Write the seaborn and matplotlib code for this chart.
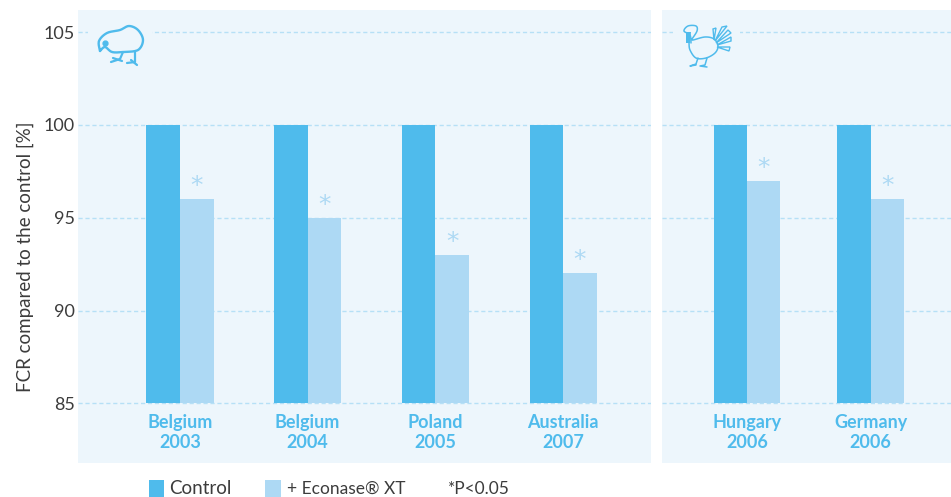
import numpy as np
import pandas as pd
import matplotlib
matplotlib.use("Agg")
import matplotlib.pyplot as plt
from matplotlib.patches import Rectangle, Polygon
import seaborn as sns

# values
broiler_sites = ["Belgium\n2003", "Belgium\n2004", "Poland\n2005", "Australia\n2007"]
broiler_control = [100, 100, 100, 100]
broiler_econase = [96, 95, 93, 92]

turkey_sites = ["Hungary\n2006", "Germany\n2006"]
turkey_control = [100, 100]
turkey_econase = [97, 96]

y_ticks = [85, 90, 95, 100, 105]

BLUE = "#4FBBEC"
LIGHT = "#ADD9F4"
PANEL = "#EDF6FC"
GRID = "#B6E0F6"
TEXT = "#3C3C3C"
W, H = 951, 497

sns.set_theme(style="white")
plt.rcParams["font.family"] = ["Lato", "DejaVu Sans"]

fig = plt.figure(figsize=(W / 100, H / 100), dpi=100)


def panel_axes(x0, x1, y0=10, y1=463):
    return fig.add_axes([x0 / W, 1 - y1 / H, (x1 - x0) / W, (y1 - y0) / H])


def long_table(sites, control, econase):
    return pd.DataFrame({
        "site": sites * 2,
        "group": ["Control"] * len(sites) + ["+ Econase XT"] * len(sites),
        "fcr": list(control) + list(econase),
    })


def draw_panel(ax, sites, control, econase, width, xlim):
    df = long_table(sites, control, econase)
    sns.barplot(data=df, x="site", y="fcr", hue="group", ax=ax, width=width, gap=0,
                palette=[BLUE, LIGHT], saturation=1, legend=False, errorbar=None,
                linewidth=0, zorder=3)
    ax.set_facecolor(PANEL)
    ax.set_xlim(*xlim)
    ax.set_ylim(81.79, 106.19)
    # bars start at the 85 line in the original
    for bar in ax.patches:
        top = bar.get_height()
        bar.set_y(85)
        bar.set_height(top - 85)
    for y in y_ticks:
        ax.axhline(y, color=GRID, lw=1.0, ls=(0, (3, 2)), zorder=1)
    for i, v in enumerate(econase):
        ax.text(i + width / 4, v + 0.7, "*", color=LIGHT, fontsize=18, ha="center",
                va="center", family="DejaVu Sans", zorder=4)
    ax.set_xlabel("")
    ax.set_ylabel("")
    ax.set_yticks(y_ticks)
    # site names sit inside the panel, under the 85 line
    ax.tick_params(axis="x", length=0, pad=-35, labelsize=13, labelcolor=BLUE)
    for lab in ax.get_xticklabels():
        lab.set_fontweight("bold")
        lab.set_linespacing(1.2)
    sns.despine(ax=ax, left=True, bottom=True)


ax1 = panel_axes(78, 651)
draw_panel(ax1, broiler_sites, broiler_control, broiler_econase, 0.525, (-0.799, 3.689))
ax1.tick_params(axis="y", length=0, pad=2.5, labelsize=13, labelcolor=TEXT)
ax1.set_ylabel("FCR compared to the control [%]", fontsize=13.5, color=TEXT)
ax1.yaxis.set_label_coords((34 - 78) / (651 - 78), 0.455)

ax2 = panel_axes(662, 951)
draw_panel(ax2, turkey_sites, turkey_control, turkey_econase, 0.54, (-0.688, 1.650))
ax2.set_yticklabels([])
ax2.tick_params(axis="y", length=0)

# overlay in pixel coordinates for icons and the legend row
over = fig.add_axes([0, 0, 1, 1], zorder=10)
over.set_xlim(0, W)
over.set_ylim(H, 0)
over.axis("off")
over.patch.set_alpha(0)


def smooth(pts, closed=False, n=12):
    pts = np.array(pts, dtype=float)
    if closed:
        p = np.vstack([pts[-1], pts, pts[:2]])
    else:
        p = np.vstack([pts[0], pts, pts[-1]])
    out = []
    for i in range(1, len(p) - 2):
        for t in np.linspace(0, 1, n, endpoint=False):
            out.append(0.5 * (2 * p[i] + (p[i + 1] - p[i - 1]) * t
                              + (2 * p[i - 1] - 5 * p[i] + 4 * p[i + 1] - p[i + 2]) * t ** 2
                              + (3 * p[i] - p[i - 1] - 3 * p[i + 1] + p[i + 2]) * t ** 3))
    out.append(p[-2])
    return np.array(out)


def stroke(pts, lw=1.6, curve=True, closed=False):
    xy = smooth(pts, closed) if curve else np.array(pts, dtype=float)
    over.plot(xy[:, 0], xy[:, 1], color=BLUE, lw=lw, solid_capstyle="round",
              solid_joinstyle="round")


# gaps in the 105 line behind the icons
over.add_patch(Rectangle((88, 26), 64, 12, color=PANEL, lw=0))
over.add_patch(Rectangle((673, 26), 67, 12, color=PANEL, lw=0))

# kiwi
stroke([(100, 51), (99, 41), (107, 33), (120, 30), (129, 26), (138, 30), (143, 40),
        (138, 50), (123, 52), (112, 52), (105, 47), (100, 51)], lw=1.7)
over.plot([105], [43], "o", color=BLUE, ms=3.5)
stroke([(123, 52), (120, 59), (111, 62)], curve=False)
stroke([(113, 58), (122, 61)], curve=False)
stroke([(135, 52), (135, 62), (127, 63)], curve=False)
stroke([(131, 60), (137, 65)], curve=False)

# turkey
stroke([(691, 43), (690, 35), (684, 31), (688, 26), (696, 26), (697, 31), (692, 39)],
       lw=1.1)
stroke([(692, 39), (693, 40), (705, 37), (714, 39), (718, 46), (715, 53), (706, 58),
        (696, 58), (690, 50), (689, 43)], lw=1.1)
over.add_patch(Polygon([(686, 32), (691, 32), (690, 43), (686, 43)], color=BLUE, lw=0))
petals = [((714, 40), (713, 29), (716, 28)), ((715, 41), (722, 27), (727, 26)),
          ((716, 43), (728, 30), (731, 33)), ((717, 45), (731, 37), (731, 41)),
          ((717, 47), (730, 47), (729, 51))]
for base, a, b in petals:
    over.add_patch(Polygon([base, a, b], fill=False, ec=BLUE, lw=1.0))
stroke([(698, 58), (696, 64), (690, 66), (696, 65)], lw=1.1, curve=False)
stroke([(707, 58), (705, 65), (700, 66), (707, 67)], lw=1.1, curve=False)

# legend row, cut by the bottom edge like the original
over.add_patch(Rectangle((149, 480), 15, 17, color=BLUE, lw=0))
over.add_patch(Rectangle((265, 480), 16, 17, color=LIGHT, lw=0))
for x, label, size in [(169, "Control", 13.5), (287, "+ Econase® XT", 12.5),
                       (448, "*P<0.05", 12.5)]:
    over.text(x, 489, label, fontsize=size, color=TEXT, va="center", ha="left")

fig.savefig("out.png", dpi=100)
